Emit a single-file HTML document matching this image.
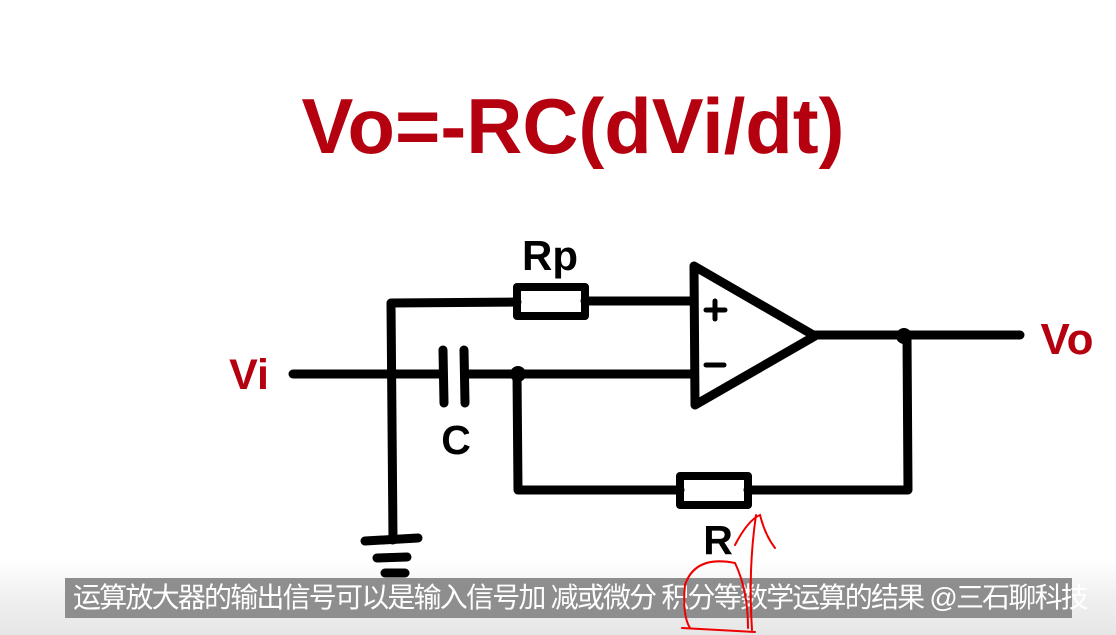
<!DOCTYPE html>
<html><head><meta charset="utf-8"><style>
html,body{margin:0;padding:0;background:#fff;}
body{width:1116px;height:635px;overflow:hidden;position:relative;font-family:"Liberation Sans",Arial,sans-serif;}
#bot{position:absolute;left:0;top:560px;width:1116px;height:75px;background:linear-gradient(#fff,#f0f0f0 50%,#e6e6e6);}
#sub{position:absolute;left:65px;top:578px;width:1007px;height:40px;background:#8e8e8e;color:#fff;font-family:"Liberation Sans","Noto Sans CJK SC",sans-serif;font-size:28px;line-height:40px;white-space:nowrap;padding-left:8px;box-sizing:border-box;letter-spacing:-1.8px;}
svg{position:absolute;left:0;top:0;}
</style></head><body>
<div id="bot"></div>
<svg width="1116" height="635" viewBox="0 0 1116 635">
<g stroke="#000" stroke-width="9" fill="none" stroke-linecap="round" stroke-linejoin="round">
<polyline points="393,540 391,303 517,302"/>
<rect x="517" y="287" width="68" height="29" stroke-width="8"/>
<line x1="585" y1="301" x2="692" y2="301"/>
<line x1="293" y1="374" x2="443" y2="374"/>
<line x1="443" y1="350" x2="444" y2="403"/>
<line x1="464" y1="350" x2="465" y2="403"/>
<line x1="465" y1="374" x2="692" y2="374"/>
<polygon points="694,266 815,336 695,405"/>
<line x1="815" y1="335" x2="1020" y2="335"/>
<polyline points="517,374 518,490 680,490"/>
<rect x="680" y="476" width="68" height="29" stroke-width="8"/>
<polyline points="748,490 908,490 907,336"/>
<line x1="365" y1="541" x2="418" y2="538"/>
<line x1="377" y1="558" x2="407" y2="557"/>
<line x1="385" y1="573" x2="405" y2="573"/>
</g>
<g stroke="#000" stroke-width="5" stroke-linecap="round">
<line x1="706" y1="310" x2="725" y2="310"/><line x1="715" y1="301" x2="715" y2="319"/>
<line x1="706" y1="365" x2="724" y2="365"/>
</g>
<circle cx="518" cy="374" r="8" fill="#000"/>
<circle cx="904" cy="336" r="8" fill="#000"/>
<text x="573" y="153" text-anchor="middle" font-size="78" font-weight="bold" fill="#b5000f" textLength="543" lengthAdjust="spacingAndGlyphs">Vo=-RC(dVi/dt)</text>
<text x="550" y="270" text-anchor="middle" font-size="42" font-weight="bold">Rp</text>
<text x="456" y="454" text-anchor="middle" font-size="41" font-weight="bold">C</text>
<text x="718" y="554" text-anchor="middle" font-size="41" font-weight="bold">R</text>
<text x="249" y="389" text-anchor="middle" font-size="43" font-weight="bold" fill="#b5000f">Vi</text>
<text x="1067" y="354" text-anchor="middle" font-size="44" font-weight="bold" fill="#b5000f">Vo</text>
</svg>
<div id="sub">运算放大器的输出信号可以是输入信号加 减或微分 积分等数学运算的结果 @三石聊科技</div>
<svg width="1116" height="635" viewBox="0 0 1116 635" style="pointer-events:none">
<g stroke="#e00" stroke-width="2" fill="none" stroke-linecap="round">
<path d="M735,545 Q748,520 760,515 Q765,535 775,548"/>
<path d="M756,515 Q748,570 752,630"/>
<path d="M735,563 Q695,555 685,585 Q682,615 690,628"/>
<path d="M735,563 Q748,590 748,628"/>
<path d="M682,628 L755,632"/>
</g>
</svg>
</body></html>
